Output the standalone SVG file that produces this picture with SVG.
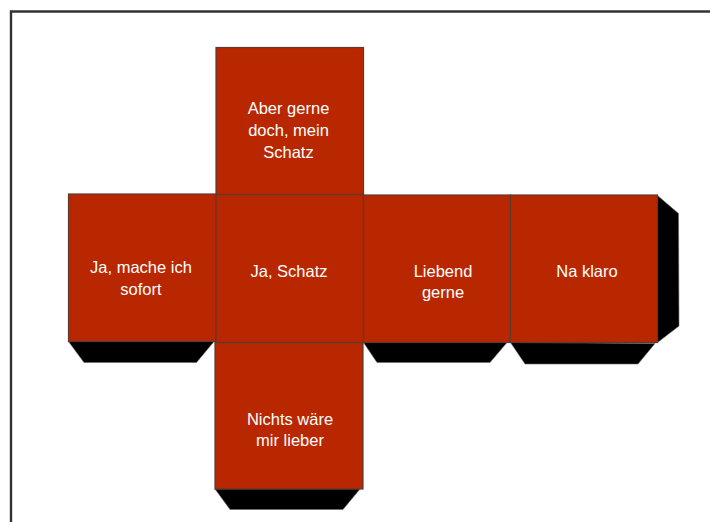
<svg xmlns="http://www.w3.org/2000/svg" width="710" height="522" viewBox="0 0 710 522">
<style>
.face{fill:#b92700;stroke:#5a3a32;stroke-width:1.2}
.tab{fill:#000;stroke:#666;stroke-width:.6}
text{font-family:"Liberation Sans",Arial,sans-serif;font-size:16.5px;fill:#fff;text-anchor:middle}
</style>
<rect width="710" height="522" fill="#fff"/>
<path d="M11 522V11.500H710" fill="none" stroke="#333" stroke-width="2.400"/>
<g id="connectors"/>
<g id="tab-left"><polygon class="tab" points="68.500,341.500 214,341.500 196.500,362.500 84,362.500"/></g>
<g id="tab-liebend"><polygon class="tab" points="363.500,342.500 507,342.500 490,362.500 377,362.500"/></g>
<g id="tab-klaro"><polygon class="tab" points="510.500,342.500 655,343.500 638,364 525,364"/></g>
<g id="tab-klaro-right"><polygon class="tab" points="657.500,195.500 678.500,213.500 679,326 657.500,342.500"/></g>
<g id="tab-bottom"><polygon class="tab" points="215,489 360,489 343,509.500 230,509.500"/></g>
<g id="face-top"><rect class="face" x="216" y="47.500" width="147.500" height="147"/><text x="288.500" y="114">Aber gerne</text><text x="288.500" y="136">doch, mein</text><text x="288.500" y="157.500">Schatz</text></g>
<g id="face-bottom"><rect class="face" x="215" y="342.500" width="148" height="146.500"/><text x="290" y="424.500">Nichts wäre</text><text x="290" y="446">mir lieber</text></g>
<g id="face-left"><rect class="face" x="68.500" y="194" width="147.500" height="147.500"/><text x="141" y="273">Ja, mache ich</text><text x="141" y="295">sofort</text></g>
<g id="face-center"><rect class="face" x="216" y="194.500" width="147.500" height="148"/><text x="289" y="276.500">Ja, Schatz</text></g>
<g id="face-liebend"><rect class="face" x="363.500" y="195" width="147" height="147.500"/><text x="443" y="276.500">Liebend</text><text x="443" y="298">gerne</text></g>
<g id="face-klaro"><rect class="face" x="510.500" y="195" width="147" height="147.500"/><text x="587" y="277">Na klaro</text></g>
</svg>
